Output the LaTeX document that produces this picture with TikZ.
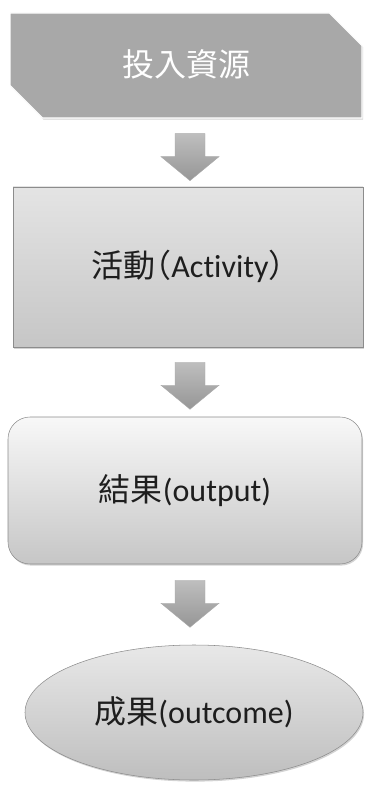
\documentclass[tikz,border=0pt]{standalone}
\usepackage{fontspec}
\newfontfamily\cjk{Noto Sans CJK TC}
\newfontfamily\cjkhalt[RawFeature=+halt]{Noto Sans CJK TC}
\newfontfamily\lat[Ligatures={NoCommon,NoDiscretionary,NoRare}]{Carlito}
\usetikzlibrary{shapes.misc,shapes.geometric,shadows,calc}
\definecolor{topgray}{RGB}{168,168,168}
\definecolor{edgegray}{RGB}{140,140,140}
\definecolor{txt}{RGB}{30,30,30}
\begin{document}
\begin{tikzpicture}[x=0.75pt,y=-0.75pt,
  lbl/.style={font=\cjk\fontsize{24}{28}\selectfont, text=txt, inner sep=0pt},
  shade/.style={drop shadow={opacity=0.35, shadow xshift=0.8pt, shadow yshift=-1.2pt}},
  inputbox/.style={lbl, text=white, chamfered rectangle, chamfered rectangle corners={north east,south west},
    chamfered rectangle xsep=12.75pt, chamfered rectangle ysep=12.75pt,
    minimum width=264pt, minimum height=78.75pt, fill=topgray, draw=white, line width=1pt, shade},
  actbox/.style={lbl, rectangle, minimum width=262.5pt, minimum height=120pt,
    top color={rgb,255:red,228;green,228;blue,228}, bottom color={rgb,255:red,198;green,198;blue,198},
    draw=edgegray, line width=0.4pt, shade},
  outbox/.style={lbl, rectangle, rounded corners=16.5pt, minimum width=265.5pt, minimum height=110.25pt,
    top color={rgb,255:red,248;green,248;blue,248}, bottom color={rgb,255:red,198;green,198;blue,198},
    draw=edgegray, line width=0.4pt, shade},
  ocbox/.style={lbl, ellipse, minimum width=253.5pt, minimum height=101.25pt,
    top color={rgb,255:red,232;green,232;blue,232}, bottom color={rgb,255:red,190;green,190;blue,190},
    draw=edgegray, line width=0.4pt, shade},
  blockarrow/.pic={
    \path[top color={rgb,255:red,190;green,190;blue,190}, bottom color={rgb,255:red,150;green,150;blue,150},
      draw={rgb,255:red,170;green,170;blue,170}, line width=0.3pt]
      (-15,0) -- (15,0) -- (15,23) -- (29,23) -- (0,47) -- (-29,23) -- (-15,23) -- cycle;
  }
]
\useasboundingbox (0,0) rectangle (366,787);
\node[inputbox] (input) at (186,65.5) {\raisebox{3pt}{投入資源}};
\node[actbox] (act) at (188,267) {\raisebox{4.5pt}{活動{\cjkhalt （}{\lat Activity}{\cjkhalt ）}}};
\node[outbox] (out) at (185,490.5) {結果{\lat (output)}};
\node[ocbox] (oc) at (194,712.5) {成果{\lat (outcome)}};
\pic at ($(input.south)+(4,15)$) {blockarrow};
\pic at ($(act.south)+(2,15)$) {blockarrow};
\pic at ($(out.south)+(5,16)$) {blockarrow};
\end{tikzpicture}
\end{document}
